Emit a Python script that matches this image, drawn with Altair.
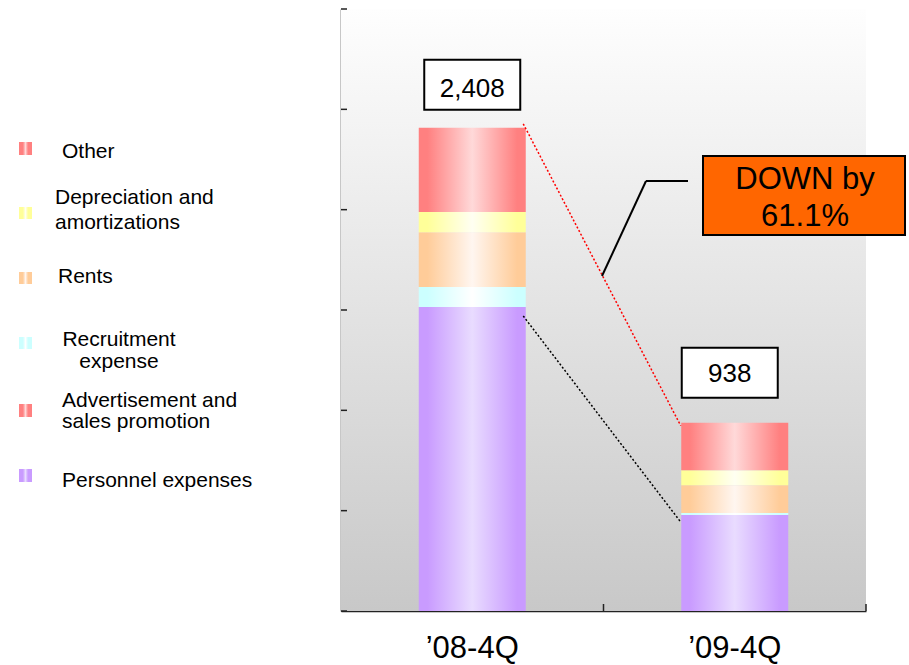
import altair as alt
import pandas as pd

# ---------------- data ----------------
quarters = ["\u201908-4Q", "\u201909-4Q"]
series = ["Personnel expenses", "Advertisement and sales promotion",
          "Recruitment expense", "Rents", "Depreciation and amortizations", "Other"]
personnel = [1515, 478]
advertisement = [0, 0]
recruitment = [100, 10]
rents = [273, 139]
depreciation = [100, 75]
other = [420, 236]
totals = [2408, 938]
change_lines = "DOWN by\n61.1%"
y_ticks = [0, 500, 1000, 1500, 2000, 2500, 3000]

legend_labels = ["Other", "Depreciation and\namortizations", "Rents",
                 "Recruitment\nexpense", "Advertisement and\nsales promotion",
                 "Personnel expenses"]

# ---------------- styles ----------------
FONT = "Liberation Sans"
colors = {
    "Personnel expenses": ("#C99BFF", "#E9DCFF"),
    "Advertisement and sales promotion": ("#FF8080", "#FFD9D9"),
    "Recruitment expense": ("#CCFFFF", "#FFFFFF"),
    "Rents": ("#FFCC99", "#FFF6F0"),
    "Depreciation and amortizations": ("#FFFF99", "#FFFFF2"),
    "Other": ("#FF8080", "#FFD9D9"),
}
legend_series = ["Other", "Depreciation and amortizations", "Rents",
                 "Recruitment expense", "Advertisement and sales promotion",
                 "Personnel expenses"]
# layout: (swatch top, swatch bottom, text x, baseline y, align, lineHeight)
legend_layout = [
    (133, 146, -279, 149, "left", 24),
    (198, 210, -286, 195, "left", 25),
    (263, 275, -283, 274, "left", 24),
    (328, 340, -222, 337, "center", 22),
    (395, 408, -279, 398, "left", 21),
    (460, 473, -279, 478, "left", 24),
]

W, H = 525, 602

rows = []
vals = [personnel, advertisement, recruitment, rents, depreciation, other]
for qi, q in enumerate(quarters):
    for si, s in enumerate(series):
        rows.append({"quarter": q, "series": s, "order": si, "value": vals[si][qi]})
df = pd.DataFrame(rows)

tot_df = pd.DataFrame({"quarter": quarters, "total": totals})
tick_df = pd.DataFrame({"v": y_ticks})
conn_red = pd.DataFrame({"q1": [quarters[0]], "q2": [quarters[1]],
                         "t1": [totals[0]], "t2": [totals[1]]})
conn_blk = pd.DataFrame({"q1": [quarters[0]], "q2": [quarters[1]],
                         "t1": [personnel[0]], "t2": [personnel[1]]})

x_scale = alt.Scale(domain=quarters, paddingInner=0, paddingOuter=0)
x_axis = alt.Axis(title=None, ticks=False, grid=False, labelAngle=0,
                  labelFont=FONT, labelFontSize=31, labelColor="black",
                  labelPadding=46, labelBaseline="alphabetic",
                  domainColor="#222222", domainWidth=1.5)
y_scale = alt.Scale(domain=[0, 3000], nice=False, zero=True)
y_axis = alt.Axis(title=None, labels=False, ticks=False, grid=False,
                  domainColor="#222222", domainWidth=1.5, values=y_ticks)


def X(field="quarter", **kw):
    return alt.X(f"{field}:N", sort=quarters, scale=x_scale, axis=x_axis, **kw)


def Y(field):
    return alt.Y(f"{field}:Q", scale=y_scale, axis=y_axis)


def hgrad(edge, light, stops=None):
    if stops is None:
        stops = [(0, edge), (0.08, edge), (0.5, light), (0.92, edge), (1, edge)]
    return alt.LinearGradient(
        gradient="linear",
        stops=[alt.GradientStop(color=c, offset=o) for o, c in stops],
        x1=0, x2=1, y1=0, y2=0)


one = alt.Data(values=[{}])

layers = []

# plot-area background gradient
layers.append(
    alt.Chart(one).mark_rect(
        color=alt.LinearGradient(
            gradient="linear",
            stops=[alt.GradientStop(color="#FEFEFE", offset=0),
                   alt.GradientStop(color="#C8C8C8", offset=1)],
            x1=0, x2=0, y1=0, y2=1)
    ).encode(x=alt.value(0), x2=alt.value(W), y=alt.value(0), y2=alt.value(H))
)

# stacked bars
base = alt.Chart(df).transform_stack(
    stack="value", as_=["y0", "y1"], groupby=["quarter"],
    sort=[alt.SortField("order", order="ascending")])
for s in series:
    edge, light = colors[s]
    layers.append(
        base.transform_filter(alt.datum.series == s)
        .mark_bar(size=107, color=hgrad(edge, light), strokeWidth=0)
        .encode(x=X(), y=Y("y0"), y2="y1")
    )

# inward axis ticks
layers.append(
    alt.Chart(tick_df).mark_rule(color="#222222", strokeWidth=1.5)
    .encode(y=Y("v"), x=alt.value(0), x2=alt.value(6))
)
layers.append(
    alt.Chart(tot_df).mark_rule(color="#222222", strokeWidth=1.5)
    .encode(x=X(bandPosition=1), y=alt.value(H), y2=alt.value(H - 7))
)

# connector lines
layers.append(
    alt.Chart(conn_red).mark_rule(color="#FF0000", strokeWidth=1.5, strokeDash=[2, 2],
                                  xOffset=51, x2Offset=-54, yOffset=-4, y2Offset=3)
    .encode(x=X("q1", bandPosition=0.5), x2=alt.X2("q2", bandPosition=0.5),
            y=Y("t1"), y2="t2")
)
layers.append(
    alt.Chart(conn_blk).mark_rule(color="#000000", strokeWidth=1.5, strokeDash=[2, 2],
                                  xOffset=51, x2Offset=-54, yOffset=9, y2Offset=7)
    .encode(x=X("q1", bandPosition=0.5), x2=alt.X2("q2", bandPosition=0.5),
            y=Y("t1"), y2="t2")
)

# value label boxes
box_shape = "M-1,-0.52H1V0.52H-1Z"
label_layout = [(0, -43, -31), (-5, -50, -41)]  # (xOffset, box yOffset, text yOffset)
for qi, q in enumerate(quarters):
    xo, byo, tyo = label_layout[qi]
    d = tot_df[tot_df["quarter"] == q]
    layers.append(
        alt.Chart(d).mark_point(shape=box_shape, size=96 * 96, filled=True,
                                fill="white", stroke="black", strokeWidth=2,
                                opacity=1, fillOpacity=1, strokeOpacity=1,
                                xOffset=xo, yOffset=byo)
        .encode(x=X(), y=Y("total"))
    )
    layers.append(
        alt.Chart(d).mark_text(font=FONT, fontSize=26, color="black",
                               align="center", baseline="alphabetic",
                               xOffset=xo, yOffset=tyo)
        .encode(x=X(), y=Y("total"), text=alt.Text("total:Q", format=","))
    )

# DOWN callout
layers.append(
    alt.Chart(one).mark_rule(color="black", strokeWidth=2)
    .encode(x=alt.value(261), x2=alt.value(305), y=alt.value(267), y2=alt.value(172))
)
layers.append(
    alt.Chart(one).mark_rule(color="black", strokeWidth=2)
    .encode(x=alt.value(305), x2=alt.value(347), y=alt.value(172))
)
layers.append(
    alt.Chart(one).mark_rect(fill="#FF6600", stroke="black", strokeWidth=2)
    .encode(x=alt.value(362), x2=alt.value(564), y=alt.value(147), y2=alt.value(226))
)
layers.append(
    alt.Chart(one).mark_text(font=FONT, fontSize=31, color="black", align="center",
                             baseline="alphabetic", lineBreak="\n", lineHeight=37)
    .encode(x=alt.value(464), y=alt.value(180), text=alt.value(change_lines))
)

# custom legend
for s, lab, (st, sb, tx, ty, al, lh) in zip(legend_series, legend_labels, legend_layout):
    edge, light = colors[s]
    sw = hgrad(edge, "#FFFFFF" if s != "Personnel expenses" else light,
               stops=[(0, edge), (0.3, edge), (0.5, light), (0.7, edge), (1, edge)])
    layers.append(
        alt.Chart(one).mark_rect(color=sw)
        .encode(x=alt.value(-322), x2=alt.value(-309), y=alt.value(st), y2=alt.value(sb))
    )
    layers.append(
        alt.Chart(one).mark_text(font=FONT, fontSize=21, color="black", align=al,
                                 baseline="alphabetic", lineBreak="\n", lineHeight=lh)
        .encode(x=alt.value(tx), y=alt.value(ty), text=alt.value(lab))
    )

chart = alt.layer(*layers).properties(
    width=W, height=H,
    padding={"left": 341, "top": 9, "right": 43, "bottom": 54},
    autosize=alt.AutoSizeParams(type="none"),
    background="white",
).configure_view(stroke="transparent")

chart.save("out.html", embed_options={"renderer": "svg", "actions": False})
